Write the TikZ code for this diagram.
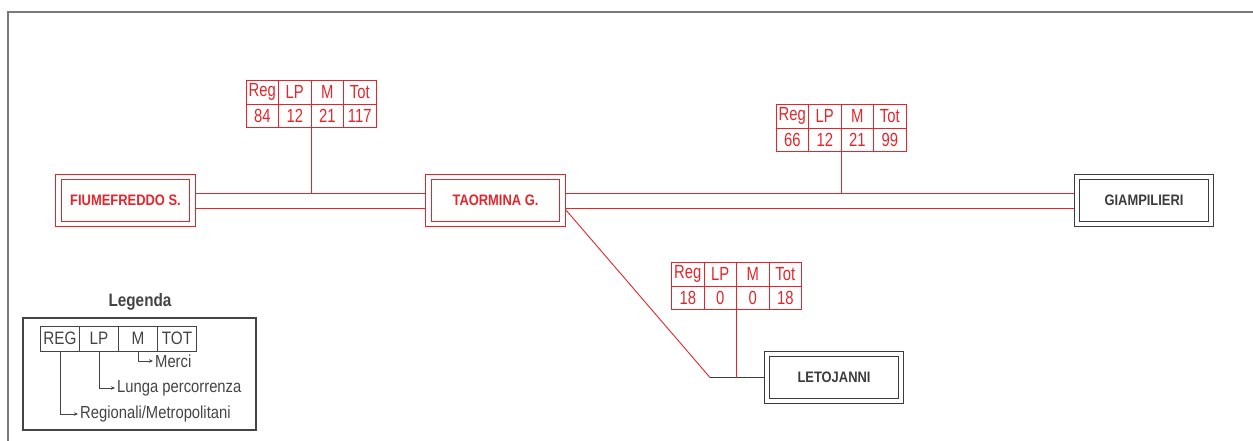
\documentclass[tikz,border=0pt]{standalone}
\usepackage{fontspec}
\newfontfamily\narrowsf[FakeStretch=0.85]{Liberation Sans}
\newfontfamily\tabsf[FakeStretch=0.78]{Liberation Sans}
\usepackage{tikz}
\usetikzlibrary{arrows.meta,positioning,matrix,calc}
\usepackage{xcolor}
\definecolor{trkRed}{HTML}{E3262B}
\definecolor{stnGray}{HTML}{3C3C3C}
\definecolor{legGray}{HTML}{444444}
\definecolor{frameGray}{HTML}{7A7A7A}
\newcommand\stnfont{\narrowsf\bfseries\fontsize{15.2}{17}\selectfont}
\newcommand\tabfont{\tabsf\fontsize{19}{21}\selectfont}
\newcommand\legfont{\narrowsf\fontsize{17.4}{19}\selectfont}
\newcommand\legtabfont{\narrowsf\fontsize{18}{20}\selectfont}

\begin{document}
\begin{tikzpicture}[x=1pt, y=-1pt,
  station/.style={draw=trkRed, double, double distance=4.4pt, line width=0.9pt, minimum width=134pt, minimum height=47pt, inner sep=0pt, outer sep=3pt, font=\stnfont, text=trkRed},
  greystn/.style={draw=stnGray, text=stnGray},
  track/.style={trkRed, line width=0.9pt},
  link/.style={stnGray, line width=0.9pt},
  flows/.style={matrix of nodes, inner sep=0pt, outer sep=0pt, column sep=-0.8pt, row sep=-0.8pt,
    nodes={draw=trkRed, line width=0.8pt, text=trkRed, font=\tabfont, minimum width=32.5pt, minimum height=23.5pt, inner sep=0pt, anchor=center}},
  legtab/.style={matrix of nodes, inner sep=0pt, outer sep=0pt, column sep=-1pt,
    nodes={draw=legGray, line width=1pt, text=legGray, font=\legtabfont, minimum width=39pt, minimum height=25pt, inner sep=0pt, anchor=center}},
  legtxt/.style={anchor=west, inner sep=2pt, text=legGray, font=\legfont},
  legline/.style={legGray, line width=0.9pt, -{Stealth[length=4pt, width=3.5pt]}}]
\useasboundingbox (0,0) rectangle (1253,441);
\draw[frameGray, line width=1.4pt] (8,441) -- (8,12) -- (1253,12);
% stations
\node[station] (fiume) at (125.5,200.5) {FIUMEFREDDO S.};
\node[station] (taormina) at (495.5,200.5) {TAORMINA G.};
\node[station, greystn] (giamp) at (1144,200.5) {GIAMPILIERI};
\node[station, greystn] (leto) at (834,377.5) {LETOJANNI};
% tracks
\coordinate (upA) at ([yshift=7.5pt]fiume.east);
\coordinate (upB) at ([yshift=7.5pt]taormina.east);
\draw[track] (upA) -- ([yshift=7.5pt]taormina.west);
\draw[track] ([yshift=-7.5pt]fiume.east) -- ([yshift=-7.5pt]taormina.west);
\draw[track] (upB) -- ([yshift=7.5pt]giamp.west);
\draw[track] ([yshift=-7.5pt]taormina.east) -- ([yshift=-7.5pt]giamp.west);
\coordinate (letoBend) at (710,377.5);
\draw[track] ([yshift=-9pt]taormina.east) -- (letoBend);
\draw[link] (letoBend) -- (leto.west);
% flow tables
\matrix (tab1) [flows] at (311,104) {Reg & LP & M & Tot\\ 84 & 12 & 21 & 117\\};
\matrix (tab2) [flows] at (841,128) {Reg & LP & M & Tot\\ 66 & 12 & 21 & 99\\};
\matrix (tab3) [flows] at (736.5,286) {Reg & LP & M & Tot\\ 18 & 0 & 0 & 18\\};
\draw[track] (tab1.south) -- (tab1.south |- upA);
\draw[track] (tab2.south) -- (tab2.south |- upB);
\draw[track] (tab3.south) -- (tab3.south |- leto.west);
% legend
\node[font=\narrowsf\bfseries\fontsize{18}{20}\selectfont, text=legGray] (legTitle) at (140,302) {Legenda};
\node[draw=legGray, line width=1.2pt, minimum width=233pt, minimum height=112pt] (legFrame) at (139.5,374) {};
\matrix (leg) [legtab] at (118.5,338.5) {REG & LP & M & TOT\\};
\node[legtxt] (txMerci) at (153,361) {Merci};
\node[legtxt] (txLunga) at (115,388) {Lunga percorrenza};
\node[legtxt] (txReg) at (78,414) {Regionali/Metropolitani};
\draw[legline] (leg-1-3.south) |- (txMerci.west);
\draw[legline] (leg-1-2.south) |- (txLunga.west);
\draw[legline] (leg-1-1.south) |- (txReg.west);
\end{tikzpicture}
\end{document}
